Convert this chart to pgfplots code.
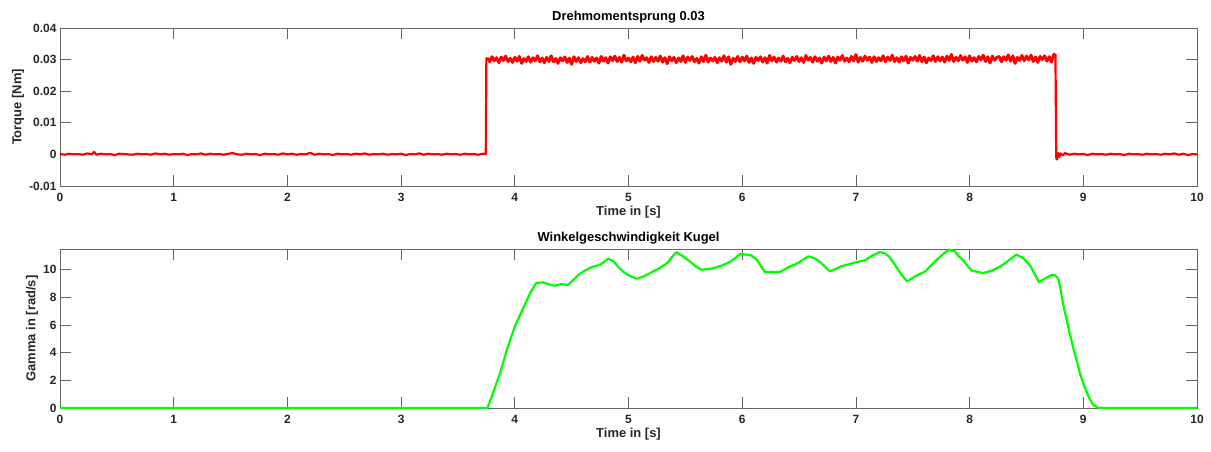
\documentclass[border=0pt]{standalone}
\usepackage{pgfplots}
\pgfplotsset{compat=1.18}
\usepackage{fontspec}
\setmainfont{Liberation Sans}
\begin{document}
\begin{tikzpicture}[x=1bp,y=1bp]
\path[use as bounding box] (0,0) rectangle (1211,452);
\pgfplotsset{
  mystyle/.style={
    scale only axis, width=1137bp, anchor=south west,
    xmin=0, xmax=10, xtick={0,1,...,10},
    tick align=inside, major tick length=11bp,
    scaled y ticks=false,
    axis line style={black!60, line width=0.8bp},
    every tick/.style={black!60, line width=0.8bp},
    /pgf/number format/assume math mode=true,
    tick label style={font=\bfseries\fontsize{12}{14}\selectfont, text=black!85},
    xticklabel style={yshift=-4bp},
    xlabel={Time in [s]},
    every axis x label/.style={at={(axis description cs:0.5,0)}, anchor=center, yshift=-26bp, font=\bfseries\fontsize{13}{15}\selectfont, text=black!85},
    every axis title/.style={at={(axis description cs:0.5,1)}, anchor=center, yshift=11bp, font=\bfseries\fontsize{13}{15}\selectfont, text=black},
  }
}
\begin{axis}[mystyle, at={(60bp,266bp)}, height=158bp,
  ymin=-0.01, ymax=0.04, ytick={-0.01,0,0.01,0.02,0.03,0.04},
  yticklabels={-0.01,0,0.01,0.02,0.03,0.04},
  ylabel={Torque [Nm]},
  every axis y label/.style={at={(axis description cs:-0.037,0.5)}, rotate=90, anchor=center, font=\bfseries\fontsize{13}{15}\selectfont, text=black!85},
  title={Drehmomentsprung 0.03}]
\addplot[red, line width=2.2bp, line join=round] coordinates {
(0.00,0.0001)(0.04,-0.0001)(0.08,0.0002)(0.12,0.0000)(0.16,0.0001)(0.20,-0.0001)(0.24,0.0003)(0.28,0.0000)(0.30,0.0008)(0.32,-0.0001)(0.36,0.0002)(0.40,0.0000)(0.44,0.0001)(0.48,-0.0002)(0.52,0.0002)(0.56,0.0001)(0.60,0.0000)(0.64,-0.0001)(0.68,0.0002)(0.72,0.0000)(0.76,0.0001)(0.80,-0.0001)(0.84,0.0003)(0.88,0.0000)(0.92,0.0002)(0.96,-0.0001)(1.00,0.0001)(1.04,0.0000)(1.08,0.0002)(1.12,-0.0002)(1.16,0.0001)(1.20,0.0000)(1.24,0.0003)(1.28,-0.0001)(1.32,0.0002)(1.36,0.0000)(1.40,0.0001)(1.44,-0.0001)(1.48,0.0002)(1.52,0.0004)(1.56,0.0000)(1.60,-0.0001)(1.64,0.0002)(1.68,0.0000)(1.72,0.0001)(1.76,-0.0002)(1.80,0.0002)(1.84,0.0000)(1.88,0.0001)(1.92,-0.0001)(1.96,0.0003)(2.00,0.0000)(2.04,0.0002)(2.08,-0.0001)(2.12,0.0001)(2.16,0.0000)(2.20,0.0005)(2.24,-0.0001)(2.28,0.0002)(2.32,0.0000)(2.36,0.0001)(2.40,-0.0002)(2.44,0.0002)(2.48,0.0000)(2.52,0.0001)(2.56,-0.0001)(2.60,0.0002)(2.64,0.0000)(2.68,0.0003)(2.72,-0.0001)(2.76,0.0001)(2.80,0.0000)(2.84,0.0002)(2.88,-0.0001)(2.92,0.0001)(2.96,0.0000)(3.00,0.0002)(3.04,-0.0002)(3.08,0.0001)(3.12,0.0000)(3.16,0.0003)(3.20,-0.0001)(3.24,0.0002)(3.28,0.0000)(3.32,0.0001)(3.36,-0.0001)(3.40,0.0002)(3.44,0.0000)(3.48,0.0001)(3.52,-0.0001)(3.56,0.0002)(3.60,0.0000)(3.64,0.0001)(3.68,-0.0001)(3.72,0.0002)(3.745,0.0001)(3.75,0.0304)(3.76,0.0305)
};
\addplot[red, line width=2.9bp, line join=round] coordinates {
(3.76,0.0305)(3.78,0.0293)(3.80,0.0309)(3.82,0.0296)(3.84,0.0306)(3.86,0.0290)(3.88,0.0308)(3.90,0.0297)(3.92,0.0311)(3.94,0.0294)(3.96,0.0304)(3.98,0.0291)(4.00,0.0307)(4.02,0.0295)(4.04,0.0310)(4.06,0.0288)(4.08,0.0303)(4.10,0.0294)(4.12,0.0309)(4.14,0.0292)(4.16,0.0306)(4.18,0.0296)(4.20,0.0312)(4.22,0.0293)(4.24,0.0305)
(4.26,0.0290)(4.28,0.0307)(4.30,0.0294)(4.32,0.0312)(4.34,0.0293)(4.36,0.0303)(4.38,0.0288)(4.40,0.0306)(4.42,0.0296)(4.44,0.0308)(4.46,0.0291)(4.48,0.0305)(4.50,0.0285)(4.52,0.0309)(4.54,0.0294)(4.56,0.0306)(4.58,0.0290)(4.60,0.0303)(4.62,0.0293)(4.64,0.0310)(4.66,0.0292)(4.68,0.0307)(4.70,0.0295)(4.72,0.0305)(4.74,0.0289)
(4.76,0.0310)(4.78,0.0295)(4.80,0.0306)(4.82,0.0289)(4.84,0.0309)(4.86,0.0297)(4.88,0.0311)(4.90,0.0294)(4.92,0.0307)(4.94,0.0292)(4.96,0.0314)(4.98,0.0296)(5.00,0.0305)(5.02,0.0293)(5.04,0.0308)(5.06,0.0290)(5.08,0.0310)(5.10,0.0295)(5.12,0.0313)(5.14,0.0298)(5.16,0.0306)(5.18,0.0291)(5.20,0.0309)(5.22,0.0294)(5.24,0.0307)
(5.26,0.0295)(5.28,0.0311)(5.30,0.0292)(5.32,0.0306)(5.34,0.0287)(5.36,0.0309)(5.38,0.0296)(5.40,0.0307)(5.42,0.0290)(5.44,0.0305)(5.46,0.0294)(5.48,0.0312)(5.50,0.0291)(5.52,0.0308)(5.54,0.0297)(5.56,0.0310)(5.58,0.0293)(5.60,0.0304)(5.62,0.0289)(5.64,0.0309)(5.66,0.0294)(5.68,0.0314)(5.70,0.0292)(5.72,0.0305)(5.74,0.0296)
(5.76,0.0307)(5.78,0.0290)(5.80,0.0306)(5.82,0.0295)(5.84,0.0312)(5.86,0.0292)(5.88,0.0309)(5.90,0.0285)(5.92,0.0304)(5.94,0.0294)(5.96,0.0310)(5.98,0.0293)(6.00,0.0308)(6.02,0.0296)(6.04,0.0311)(6.06,0.0291)(6.08,0.0305)(6.10,0.0288)(6.12,0.0307)(6.14,0.0297)(6.16,0.0309)(6.18,0.0292)(6.20,0.0306)(6.22,0.0289)(6.24,0.0313)
(6.26,0.0296)(6.28,0.0308)(6.30,0.0292)(6.32,0.0305)(6.34,0.0295)(6.36,0.0311)(6.38,0.0293)(6.40,0.0304)(6.42,0.0290)(6.44,0.0307)(6.46,0.0297)(6.48,0.0310)(6.50,0.0294)(6.52,0.0306)(6.54,0.0291)(6.56,0.0313)(6.58,0.0298)(6.60,0.0307)(6.62,0.0292)(6.64,0.0309)(6.66,0.0295)(6.68,0.0305)(6.70,0.0289)(6.72,0.0308)(6.74,0.0296)
(6.76,0.0311)(6.78,0.0294)(6.80,0.0307)(6.82,0.0289)(6.84,0.0308)(6.86,0.0298)(6.88,0.0313)(6.90,0.0295)(6.92,0.0305)(6.94,0.0293)(6.96,0.0310)(6.98,0.0296)(7.00,0.0316)(7.02,0.0292)(7.04,0.0307)(7.06,0.0295)(7.08,0.0311)(7.10,0.0298)(7.12,0.0308)(7.14,0.0291)(7.16,0.0309)(7.18,0.0294)(7.20,0.0306)(7.22,0.0296)(7.24,0.0312)
(7.26,0.0293)(7.28,0.0308)(7.30,0.0297)(7.32,0.0314)(7.34,0.0294)(7.36,0.0306)(7.38,0.0292)(7.40,0.0309)(7.42,0.0296)(7.44,0.0311)(7.46,0.0289)(7.48,0.0307)(7.50,0.0298)(7.52,0.0310)(7.54,0.0295)(7.56,0.0313)(7.58,0.0293)(7.60,0.0308)(7.62,0.0290)(7.64,0.0305)(7.66,0.0297)(7.68,0.0312)(7.70,0.0294)(7.72,0.0309)(7.74,0.0296)
(7.76,0.0308)(7.78,0.0292)(7.80,0.0311)(7.82,0.0297)(7.84,0.0316)(7.86,0.0294)(7.88,0.0307)(7.90,0.0296)(7.92,0.0313)(7.94,0.0298)(7.96,0.0309)(7.98,0.0291)(8.00,0.0312)(8.02,0.0295)(8.04,0.0306)(8.06,0.0293)(8.08,0.0310)(8.10,0.0299)(8.12,0.0314)(8.14,0.0294)(8.16,0.0309)(8.18,0.0289)(8.20,0.0311)(8.22,0.0298)(8.24,0.0307)
(8.26,0.0310)(8.28,0.0293)(8.30,0.0309)(8.32,0.0298)(8.34,0.0315)(8.36,0.0295)(8.38,0.0312)(8.40,0.0288)(8.42,0.0307)(8.44,0.0297)(8.46,0.0313)(8.48,0.0296)(8.50,0.0311)(8.52,0.0299)(8.54,0.0314)(8.56,0.0294)(8.58,0.0308)(8.60,0.0291)(8.62,0.0310)(8.64,0.0300)(8.66,0.0312)(8.68,0.0295)(8.70,0.0309)(8.72,0.0292)(8.74,0.0316)(8.755,0.0318)
};
\addplot[red, line width=2.2bp, line join=round] coordinates {
(8.755,0.0318)(8.762,-0.0012)(8.77,-0.0016)(8.78,0.0004)(8.79,-0.0008)(8.80,0.0003)(8.82,-0.0003)(8.84,0.0004)(8.88,-0.0001)(8.92,0.0002)(8.96,0.0000)(9.00,0.0001)(9.04,-0.0002)(9.08,0.0002)(9.12,0.0000)(9.16,0.0001)(9.20,-0.0001)(9.24,0.0002)(9.28,0.0000)(9.32,0.0001)(9.36,-0.0002)(9.40,0.0002)(9.44,0.0000)(9.48,0.0001)(9.52,-0.0001)(9.56,0.0002)(9.60,0.0000)(9.64,0.0001)(9.68,-0.0001)(9.72,0.0002)(9.76,0.0000)(9.80,0.0003)(9.84,-0.0001)(9.88,0.0002)(9.92,-0.0002)(9.96,0.0001)(10.00,0.0000)
};
\end{axis}
\begin{axis}[mystyle, at={(60bp,44bp)}, height=159bp, clip=false,
  ymin=0, ymax=11.5, ytick={0,2,...,10},
  ylabel={Gamma in [rad/s]},
  every axis y label/.style={at={(axis description cs:-0.0246,0.5)}, rotate=90, anchor=center, font=\bfseries\fontsize{13}{15}\selectfont, text=black!85},
  title={Winkelgeschwindigkeit Kugel}]
\addplot[color={rgb,1:red,0;green,1;blue,0}, line width=2.2bp, line join=round] coordinates {
(0,0)(3.76,0)(3.80,0.9)(3.87,2.5)(3.93,4.2)(4.00,5.9)(4.05,6.8)(4.09,7.5)(4.14,8.4)(4.19,9.05)(4.25,9.08)(4.30,8.95)(4.35,8.84)(4.41,8.96)(4.47,8.91)(4.52,9.3)(4.57,9.7)(4.62,9.95)(4.68,10.2)(4.75,10.36)(4.79,10.6)(4.82,10.8)(4.87,10.6)(4.91,10.2)(4.95,9.88)(5.00,9.6)(5.07,9.35)(5.13,9.5)(5.19,9.76)(5.27,10.1)(5.34,10.48)(5.38,10.9)(5.42,11.26)(5.48,10.97)(5.54,10.6)(5.59,10.25)(5.64,10.0)(5.70,10.05)(5.75,10.12)(5.82,10.3)(5.89,10.56)(5.94,10.85)(5.98,11.13)(6.04,11.1)(6.08,11.04)(6.13,10.7)(6.17,10.2)(6.20,9.83)(6.27,9.85)(6.33,9.83)(6.38,10.05)(6.42,10.24)(6.49,10.48)(6.54,10.75)(6.58,10.97)(6.63,10.85)(6.68,10.6)(6.73,10.2)(6.77,9.88)(6.82,10.05)(6.87,10.24)(6.94,10.4)(7.01,10.56)(7.08,10.68)(7.14,11.0)(7.21,11.28)(7.25,11.2)(7.29,10.97)(7.34,10.4)(7.39,9.76)(7.45,9.15)(7.52,9.52)(7.61,9.88)(7.66,10.3)(7.71,10.72)(7.77,11.15)(7.82,11.45)(7.87,11.35)(7.90,11.0)(7.94,10.72)(7.98,10.3)(8.02,9.93)(8.07,9.85)(8.12,9.76)(8.20,9.95)(8.27,10.24)(8.34,10.65)(8.41,11.09)(8.46,10.9)(8.50,10.6)(8.54,10.2)(8.56,9.88)(8.61,9.1)(8.67,9.4)(8.72,9.6)(8.75,9.6)(8.78,9.35)(8.80,8.6)(8.82,7.6)(8.85,6.5)(8.88,5.4)(8.91,4.4)(8.94,3.48)(8.97,2.5)(9.01,1.55)(9.05,0.75)(9.09,0.2)(9.13,0.02)(9.20,0)(10,0)
};
\end{axis}
\end{tikzpicture}
\end{document}
